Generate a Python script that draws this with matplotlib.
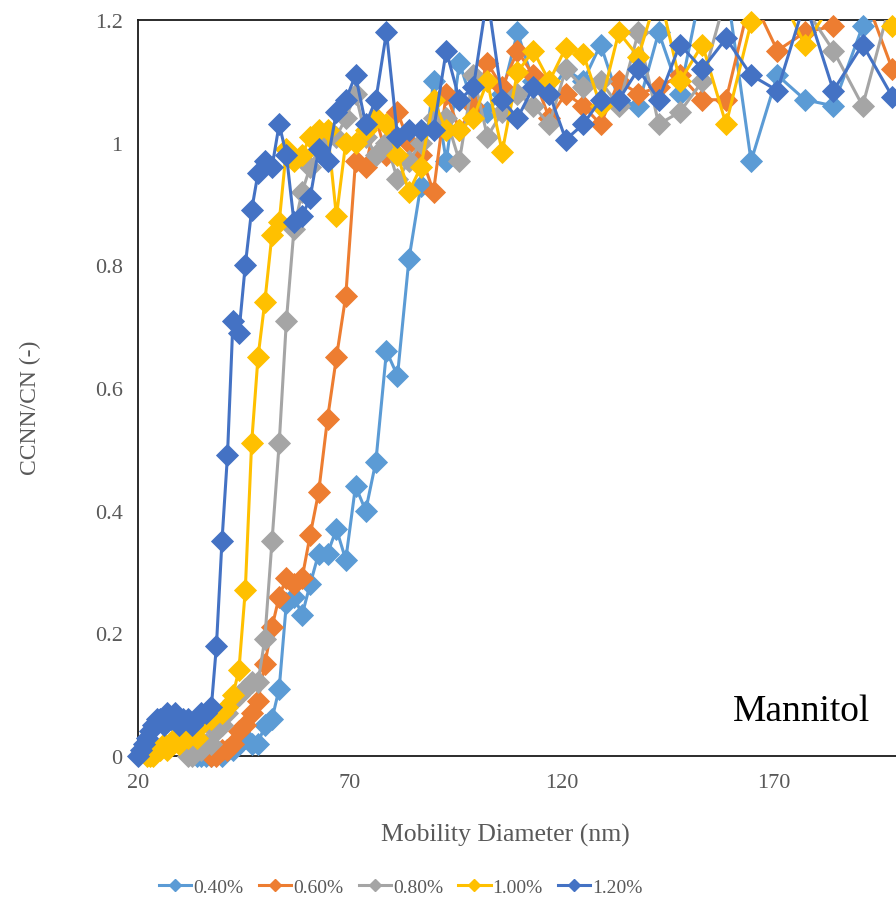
import matplotlib
matplotlib.use("Agg")
import matplotlib.pyplot as plt
from matplotlib.lines import Line2D
import numpy as np

plt.rcParams['font.family'] = ['Liberation Serif', 'DejaVu Serif']

nan = np.nan

# mobility diameter bins (nm)
diameter = [20.1, 20.8, 21.5, 22.2, 22.9, 23.6, 24.4, 25.2, 26.1, 26.9,
            27.8, 28.7, 29.7, 30.7, 31.7, 32.7, 33.8, 34.9, 36.1, 37.3,
            38.5, 39.8, 41.1, 42.4, 43.8, 45.3, 46.8, 48.3, 49.9, 51.6,
            53.3, 55.0, 56.8, 58.7, 60.6, 62.6, 64.7, 66.8, 69.0, 71.3,
            73.7, 76.1, 78.6, 81.2, 83.9, 86.7, 89.7, 92.7, 95.8, 99.1,
            102.4, 105.9, 109.5, 113.2, 117.0, 120.9, 125.0, 129.1, 133.4, 138.0,
            142.8, 147.8, 153.1, 158.7, 164.6, 170.8, 177.3, 184.0, 190.9, 197.9, 205.1]

# activated fraction CCNN/CN per supersaturation
ss_040 = [nan] * 16 + [
    0.00, 0.00, 0.00, 0.00,
    0.01, 0.00, 0.01, 0.01, 0.02, 0.03, 0.02, 0.02, 0.05, 0.06,
    0.11, 0.25, 0.26, 0.23, 0.28, 0.33, 0.33, 0.37, 0.32, 0.44,
    0.40, 0.48, 0.66, 0.62, 0.81, 0.93, 1.10, 0.97, 1.13, 1.06,
    1.05, 1.08, 1.18, 1.10, 1.08, 1.12, 1.10, 1.16, 1.07, 1.06,
    1.18, 1.08, 1.26, 1.26, 0.97, 1.11, 1.07, 1.06, 1.19, 1.22, 1.15]

ss_060 = [nan] * 19 + [
    0.00,
    0.00, 0.01, 0.01, 0.02, 0.04, 0.05, 0.07, 0.09, 0.15, 0.21,
    0.26, 0.29, 0.28, 0.29, 0.36, 0.43, 0.55, 0.65, 0.75, 0.97,
    0.96, 1.04, 0.98, 1.05, 1.00, 0.98, 0.92, 1.08, 1.02, 1.06,
    1.13, 1.09, 1.15, 1.11, 1.04, 1.08, 1.06, 1.03, 1.10, 1.08,
    1.09, 1.11, 1.07, 1.07, 1.24, 1.15, 1.18, 1.19, 1.25, 1.12, 1.10]

ss_080 = [nan] * 14 + [
    0.00, 0.00, 0.01, 0.01, 0.02, 0.02,
    0.04, 0.05, 0.07, 0.09, 0.10, 0.11, 0.12, 0.12, 0.19, 0.35,
    0.51, 0.71, 0.86, 0.92, 0.96, 0.99, 1.01, 1.01, 1.04, 1.08,
    1.01, 0.98, 1.00, 0.94, 0.97, 1.00, 1.04, 1.04, 0.97, 1.11,
    1.01, 1.05, 1.08, 1.06, 1.03, 1.12, 1.09, 1.10, 1.06, 1.18,
    1.03, 1.05, 1.10, 1.24, 1.25, 1.25, 1.22, 1.15, 1.06, 1.24, 1.15]

ss_100 = [nan] * 3 + [
    0.00, 0.00, 0.00, 0.01, 0.01, 0.02, 0.01,
    0.02, 0.03, 0.02, 0.03, 0.03, 0.04, 0.03, 0.05, 0.06, 0.06,
    0.07, 0.07, 0.08, 0.10, 0.14, 0.27, 0.51, 0.65, 0.74, 0.85,
    0.87, 0.99, 0.97, 0.98, 1.01, 1.02, 1.02, 0.88, 1.00, 1.00,
    1.02, 1.04, 1.03, 0.98, 0.92, 0.96, 1.07, 1.02, 1.02, 1.04,
    1.10, 0.985, 1.115, 1.15, 1.10, 1.155, 1.145, 1.06, 1.18, 1.14,
    1.25, 1.10, 1.16, 1.03, 1.196, 1.25, 1.16, 1.23, 1.25, 1.19, 1.15]

ss_120 = [
    0.00, 0.01, 0.02, 0.03, 0.04, 0.05, 0.06, 0.06, 0.05, 0.07,
    0.06, 0.07, 0.05, 0.06, 0.06, 0.05, 0.06, 0.07, 0.07, 0.08,
    0.18, 0.35, 0.49, 0.71, 0.69, 0.80, 0.89, 0.95, 0.97, 0.96,
    1.03, 0.98, 0.87, 0.88, 0.91, 0.99, 0.97, 1.05, 1.07, 1.11,
    1.03, 1.07, 1.18, 1.01, 1.02, 1.02, 1.02, 1.15, 1.07, 1.09,
    1.24, 1.07, 1.04, 1.09, 1.08, 1.005, 1.03, 1.07, 1.07, 1.12,
    1.07, 1.16, 1.12, 1.17, 1.11, 1.085, 1.23, 1.085, 1.16, 1.075, 1.10]

labels = ['0.40%', '0.60%', '0.80%', '1.00%', '1.20%']
colors = ['#5B9BD5', '#ED7D31', '#A5A5A5', '#FFC000', '#4472C4']
series = [ss_040, ss_060, ss_080, ss_100, ss_120]

YMAX = 1.2
TEXT = '#595959'

fig = plt.figure(figsize=(8.96, 9.03), dpi=100)
# plot area runs past the right edge of the canvas
ax = fig.add_axes([138 / 896, 146 / 903, 848 / 896, 736 / 903])
ax.set_xlim(20, 220)
ax.set_ylim(0, YMAX)

x = np.array(diameter)
for i, (vals, c) in enumerate(zip(series, colors)):
    y = np.array(vals, dtype=float)
    ax.plot(x, y, color=c, lw=2.2, zorder=3 + 2 * i, solid_joinstyle='round')
    # markers only for points inside the value range, not clipped at the frame
    keep = ~np.isnan(y) & (y <= YMAX)
    ax.plot(x[keep], y[keep], ls='none', marker='D', ms=11, mfc=c, mec=c,
            mew=0.6, zorder=4 + 2 * i, clip_on=False)

ax.set_xticks([20, 70, 120, 170])
ax.set_xticklabels(['20', '70', '120', '170'])
ax.set_yticks([0, 0.2, 0.4, 0.6, 0.8, 1.0, 1.2])
ax.set_yticklabels(['0', '0.2', '0.4', '0.6', '0.8', '1', '1.2'])
ax.tick_params(axis='both', length=0, labelsize=16, labelcolor=TEXT)
ax.tick_params(axis='y', pad=11)
ax.tick_params(axis='x', pad=12)
for s in ax.spines.values():
    s.set_color('#1a1a1a')
    s.set_linewidth(1.3)

fig.text(505 / 896, 1 - 835 / 903, 'Mobility Diameter (nm)', ha='center', va='center',
         fontsize=18.5, color=TEXT)
fig.text(30 / 896, 1 - 408 / 903, 'CCNN/CN (-)', rotation=90, ha='center', va='center',
         fontsize=17, color=TEXT)
fig.text(733 / 896, 1 - 712 / 903, 'Mannitol', ha='left', va='center',
         fontsize=27, color='black')

handles = [Line2D([0], [0], color=c, lw=2.2, marker='D', ms=6.6, mfc=c, mec=c)
           for c in colors]
fig.legend(handles, labels, loc='center', bbox_to_anchor=(401 / 896, 1 - 888 / 903),
           ncol=5, frameon=False, fontsize=14, handlelength=1.65, handletextpad=0.1,
           columnspacing=0.8, labelcolor=TEXT)

fig.savefig('out.png', dpi=100)
